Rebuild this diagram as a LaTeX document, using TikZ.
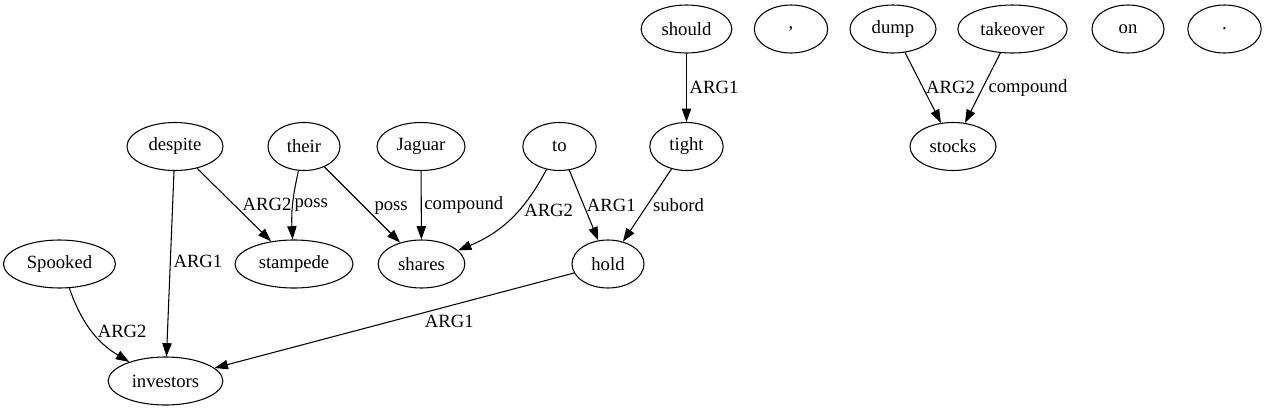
\documentclass[tikz,border=0pt]{standalone}
\usepackage{fontspec}
\setmainfont{Liberation Serif}
\usetikzlibrary{arrows.meta, shapes.geometric}

\begin{document}
\begin{tikzpicture}[x=0.75pt, y=-0.75pt,
    every node/.style={font=\fontsize{14}{16}\selectfont},
    word/.style={draw, ellipse, minimum height=36pt, inner sep=0pt, line width=0.8pt},
    rel/.style={-{Triangle[length=10pt, width=7pt]}, line width=0.8pt},
    lab/.style={right, inner sep=2pt}]
    \useasboundingbox (0,0) rectangle (1265,411);

    % Words (top row)
    \node[word, minimum width=68pt] (should) at (686.5,29) {should};
    \node[word, minimum width=55pt] (comma) at (791,29) {,};
    \node[word, minimum width=64.5pt] (dump) at (893,29) {dump};
    \node[word, minimum width=82pt] (takeover) at (1012.5,29) {takeover};
    \node[word, minimum width=54pt] (on) at (1128,29) {on};
    \node[word, minimum width=55pt] (stop) at (1224.5,29) {.};

    % Words (second row)
    \node[word, minimum width=72pt] (despite) at (175,146.5) {despite};
    \node[word, minimum width=54pt] (their) at (304,146.5) {their};
    \node[word, minimum width=66pt] (jaguar) at (421,146.5) {Jaguar};
    \node[word, minimum width=55pt] (to) at (559.5,146.5) {to};
    \node[word, minimum width=55pt] (tight) at (686.5,146.5) {tight};
    \node[word, minimum width=64.5pt] (stocks) at (953,146.5) {stocks};

    % Words (third and fourth row)
    \node[word, minimum width=84pt] (spooked) at (59.5,264) {Spooked};
    \node[word, minimum width=88.5pt] (stampede) at (294,264) {stampede};
    \node[word, minimum width=65pt] (shares) at (421.5,264) {shares};
    \node[word, minimum width=54pt] (hold) at (608,264) {hold};
    \node[word, minimum width=86pt] (investors) at (165.5,381) {investors};

    % Relations
    \draw[rel] (should) -- node[lab] {ARG1} (tight);
    \draw[rel] (dump) -- node[lab] {ARG2} (stocks);
    \draw[rel] (takeover) -- node[lab, inner sep=4pt] {compound} (stocks);
    \draw[rel] (despite) -- node[lab, pos=0.5, inner sep=6pt] {ARG2} (stampede);
    \draw[rel] (despite) -- node[lab, pos=0.49] {ARG1} (investors);
    \draw[rel] (their) to[bend right=8] node[lab, inner sep=1pt] {poss} (stampede);
    \draw[rel] (their) -- node[lab, pos=0.55, inner sep=6pt] {poss} (shares);
    \draw[rel] (jaguar) -- node[lab] {compound} (shares);
    \draw[rel] (to) to[bend left=20] node[lab, pos=0.4, inner sep=4pt] {ARG2} (shares);
    \draw[rel] (to) -- node[lab] {ARG1} (hold);
    \draw[rel] (tight) -- node[lab, inner sep=4pt] {subord} (hold);
    \draw[rel] (spooked) to[bend right=20] node[lab, inner sep=4pt] {ARG2} (investors);
    \draw[rel] (hold) -- node[pos=0.42, anchor=north west, inner sep=1pt] {ARG1} (investors);
\end{tikzpicture}
\end{document}
